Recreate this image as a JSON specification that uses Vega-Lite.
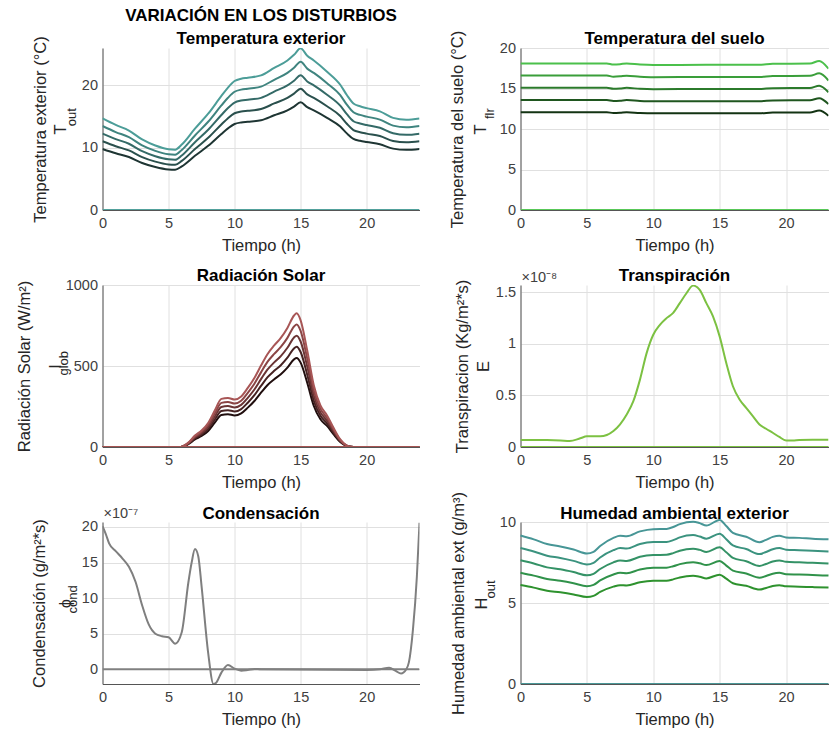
{
"$schema": "https://vega.github.io/schema/vega-lite/v6.json",
"padding": {"left": 15.5, "top": 7, "right": 0, "bottom": 0},
"config": {
  "font": "Liberation Sans",
  "view": {"stroke": null},
  "axis": {"labelFont": "Liberation Sans", "labelFontSize": 14.5, "labelColor": "#404040", "titleFont": "Liberation Sans", "titleFontSize": 16.5, "titleFontWeight": "normal", "titleColor": "#262626", "grid": true, "gridColor": "#e0e0e0", "domainColor": "#555555", "ticks": false, "labelPadding": 5, "labelFlush": false},
  "axisX": {"labelPadding": 6, "titlePadding": 8},
  "title": {"font": "Liberation Sans", "fontSize": 17, "fontWeight": "bold", "color": "#000000", "offset": 1.5, "lineHeight": 23}
},
"datasets": {
  "zero": [{"t": 0, "v": 0}, {"t": 24, "v": 0}],
  "tout": [
    {"t":0,"a":9.8,"b":11.03,"c":12.25,"d":13.48,"e":14.7},
    {"t":1,"a":9.1,"b":10.24,"c":11.38,"d":12.51,"e":13.65},
    {"t":2,"a":8.5,"b":9.56,"c":10.63,"d":11.69,"e":12.75},
    {"t":3,"a":7.55,"b":8.49,"c":9.44,"d":10.38,"e":11.33},
    {"t":4,"a":6.9,"b":7.76,"c":8.63,"d":9.49,"e":10.35},
    {"t":5,"a":6.5,"b":7.31,"c":8.13,"d":8.94,"e":9.75},
    {"t":5.5,"a":6.45,"b":7.26,"c":8.06,"d":8.87,"e":9.68},
    {"t":6,"a":7.0,"b":7.88,"c":8.75,"d":9.63,"e":10.5},
    {"t":7,"a":8.7,"b":9.79,"c":10.88,"d":11.96,"e":13.05},
    {"t":8,"a":10.3,"b":11.59,"c":12.88,"d":14.16,"e":15.45},
    {"t":9,"a":12.2,"b":13.73,"c":15.25,"d":16.78,"e":18.3},
    {"t":9.5,"a":13.1,"b":14.74,"c":16.38,"d":18.01,"e":19.65},
    {"t":10,"a":13.8,"b":15.53,"c":17.25,"d":18.98,"e":20.7},
    {"t":10.5,"a":14.05,"b":15.81,"c":17.56,"d":19.32,"e":21.08},
    {"t":11,"a":14.15,"b":15.92,"c":17.69,"d":19.46,"e":21.23},
    {"t":12,"a":14.4,"b":16.2,"c":18.0,"d":19.8,"e":21.6},
    {"t":13,"a":15.2,"b":17.1,"c":19.0,"d":20.9,"e":22.8},
    {"t":14,"a":16.0,"b":18.0,"c":20.0,"d":22.0,"e":24.0},
    {"t":14.5,"a":16.6,"b":18.68,"c":20.75,"d":22.83,"e":24.9},
    {"t":15,"a":17.3,"b":19.46,"c":21.63,"d":23.79,"e":25.95},
    {"t":15.5,"a":16.5,"b":18.56,"c":20.63,"d":22.69,"e":24.75},
    {"t":16,"a":16.0,"b":18.0,"c":20.0,"d":22.0,"e":24.0},
    {"t":17,"a":14.8,"b":16.65,"c":18.5,"d":20.35,"e":22.2},
    {"t":18,"a":13.4,"b":15.08,"c":16.75,"d":18.43,"e":20.1},
    {"t":18.5,"a":12.3,"b":13.84,"c":15.38,"d":16.91,"e":18.45},
    {"t":19,"a":11.4,"b":12.83,"c":14.25,"d":15.68,"e":17.1},
    {"t":19.5,"a":11.1,"b":12.49,"c":13.88,"d":15.26,"e":16.65},
    {"t":20,"a":10.9,"b":12.26,"c":13.63,"d":14.99,"e":16.35},
    {"t":21,"a":10.55,"b":11.87,"c":13.19,"d":14.51,"e":15.83},
    {"t":22,"a":9.85,"b":11.08,"c":12.31,"d":13.54,"e":14.78},
    {"t":23,"a":9.65,"b":10.86,"c":12.06,"d":13.27,"e":14.48},
    {"t":24,"a":9.8,"b":11.03,"c":12.25,"d":13.48,"e":14.7}
  ],
  "tflr": [
    {"t":0,"a":12.07,"b":13.58,"c":15.09,"d":16.6,"e":18.1},
    {"t":6.5,"a":12.07,"b":13.58,"c":15.09,"d":16.6,"e":18.1},
    {"t":7,"a":11.97,"b":13.47,"c":14.96,"d":16.46,"e":17.96},
    {"t":7.5,"a":12.0,"b":13.5,"c":15.0,"d":16.5,"e":18.0},
    {"t":8,"a":12.06,"b":13.57,"c":15.08,"d":16.58,"e":18.09},
    {"t":9,"a":11.97,"b":13.47,"c":14.96,"d":16.46,"e":17.96},
    {"t":10,"a":11.93,"b":13.42,"c":14.91,"d":16.4,"e":17.9},
    {"t":14,"a":11.95,"b":13.44,"c":14.94,"d":16.43,"e":17.93},
    {"t":18,"a":11.95,"b":13.44,"c":14.94,"d":16.43,"e":17.93},
    {"t":19,"a":12.03,"b":13.53,"c":15.04,"d":16.54,"e":18.05},
    {"t":21.8,"a":12.05,"b":13.56,"c":15.06,"d":16.57,"e":18.08},
    {"t":22.5,"a":12.27,"b":13.8,"c":15.34,"d":16.87,"e":18.41},
    {"t":23.2,"a":11.63,"b":13.08,"c":14.54,"d":15.99,"e":17.45}
  ],
  "iglob": [
    {"t":0,"a":0,"b":0,"c":0,"d":0,"e":0},
    {"t":5.9,"a":0,"b":0,"c":0,"d":0,"e":0},
    {"t":6.5,"a":18,"b":20.25,"c":22.5,"d":24.75,"e":27},
    {"t":7,"a":47,"b":52.88,"c":58.75,"d":64.63,"e":70.5},
    {"t":7.5,"a":68,"b":76.5,"c":85,"d":93.5,"e":102},
    {"t":8,"a":99,"b":111.38,"c":123.75,"d":136.13,"e":148.5},
    {"t":8.5,"a":150,"b":168.75,"c":187.5,"d":206.25,"e":225},
    {"t":9,"a":198,"b":222.75,"c":247.5,"d":272.25,"e":297},
    {"t":9.5,"a":202,"b":227.25,"c":252.5,"d":277.75,"e":303},
    {"t":10,"a":195,"b":219.38,"c":243.75,"d":268.13,"e":292.5},
    {"t":10.5,"a":208,"b":234,"c":260,"d":286,"e":312},
    {"t":11,"a":243,"b":273.38,"c":303.75,"d":334.13,"e":364.5},
    {"t":11.5,"a":284,"b":319.5,"c":355,"d":390.5,"e":426},
    {"t":12,"a":335,"b":376.88,"c":418.75,"d":460.63,"e":502.5},
    {"t":12.5,"a":383,"b":430.88,"c":478.75,"d":526.63,"e":574.5},
    {"t":13,"a":418,"b":470.25,"c":522.5,"d":574.75,"e":627},
    {"t":13.5,"a":449,"b":505.13,"c":561.25,"d":617.38,"e":673.5},
    {"t":14,"a":490,"b":551.25,"c":612.5,"d":673.75,"e":735},
    {"t":14.5,"a":541,"b":608.63,"c":676.25,"d":743.88,"e":811.5},
    {"t":14.7,"a":550,"b":618.75,"c":687.5,"d":756.25,"e":825},
    {"t":15,"a":521,"b":586.13,"c":651.25,"d":716.38,"e":781.5},
    {"t":15.5,"a":397,"b":446.63,"c":496.25,"d":545.88,"e":595.5},
    {"t":16,"a":253,"b":284.63,"c":316.25,"d":347.88,"e":379.5},
    {"t":16.5,"a":171,"b":192.38,"c":213.75,"d":235.13,"e":256.5},
    {"t":17,"a":130,"b":146.25,"c":162.5,"d":178.75,"e":195},
    {"t":17.5,"a":78,"b":87.75,"c":97.5,"d":107.25,"e":117},
    {"t":18,"a":31,"b":34.88,"c":38.75,"d":42.63,"e":46.5},
    {"t":18.5,"a":6,"b":6.75,"c":7.5,"d":8.25,"e":9},
    {"t":19,"a":0,"b":0,"c":0,"d":0,"e":0},
    {"t":24,"a":0,"b":0,"c":0,"d":0,"e":0}
  ],
  "transp": [
    {"t":0,"v":0.068},{"t":2,"v":0.068},{"t":3,"v":0.064},{"t":3.7,"v":0.058},{"t":4.5,"v":0.084},
    {"t":5,"v":0.103},{"t":6,"v":0.103},{"t":6.5,"v":0.116},{"t":7,"v":0.155},{"t":7.5,"v":0.22},
    {"t":8,"v":0.315},{"t":8.5,"v":0.444},{"t":9,"v":0.653},{"t":9.5,"v":0.91},{"t":10,"v":1.088},
    {"t":10.5,"v":1.184},{"t":11,"v":1.249},{"t":11.5,"v":1.3},{"t":12,"v":1.394},{"t":12.5,"v":1.49},
    {"t":13,"v":1.564},{"t":13.5,"v":1.522},{"t":14,"v":1.394},{"t":14.5,"v":1.265},{"t":15,"v":1.072},
    {"t":15.5,"v":0.814},{"t":16,"v":0.589},{"t":16.5,"v":0.46},{"t":17,"v":0.38},{"t":17.5,"v":0.3},
    {"t":18,"v":0.219},{"t":18.5,"v":0.177},{"t":19,"v":0.138},{"t":19.5,"v":0.097},{"t":20,"v":0.064},
    {"t":20.5,"v":0.064},{"t":21,"v":0.068},{"t":22,"v":0.07},{"t":23.2,"v":0.07}
  ],
  "cond": [
    {"t":0,"v":20.1},{"t":0.25,"v":19.0},{"t":0.5,"v":17.7},{"t":1,"v":16.6},{"t":1.5,"v":15.6},
    {"t":2,"v":14.4},{"t":2.5,"v":12.3},{"t":3,"v":9.0},{"t":3.5,"v":6.3},{"t":4,"v":5.0},
    {"t":4.5,"v":4.65},{"t":5,"v":4.5},{"t":5.5,"v":3.6},{"t":6,"v":5.2},{"t":6.5,"v":12.2},
    {"t":6.75,"v":15.0},{"t":7,"v":16.9},{"t":7.25,"v":15.9},{"t":7.5,"v":11.7},{"t":8,"v":2.3},
    {"t":8.4,"v":-2.07},{"t":8.6,"v":-1.9},{"t":9,"v":-0.47},{"t":9.5,"v":0.6},{"t":10,"v":0.09},
    {"t":10.5,"v":-0.19},{"t":11,"v":-0.09},{"t":11.5,"v":0.05},{"t":12,"v":0},{"t":20,"v":-0.09},
    {"t":21,"v":0.0},{"t":21.7,"v":0.23},{"t":22.2,"v":-0.23},{"t":22.6,"v":-0.6},{"t":23,"v":0.0},
    {"t":23.2,"v":1.0},{"t":23.5,"v":5.5},{"t":23.8,"v":13.0},{"t":24,"v":20.6}
  ],
  "hout": [
    {"t":0,"a":6.11,"b":6.87,"c":7.64,"d":8.4,"e":9.17},
    {"t":1,"a":5.95,"b":6.69,"c":7.44,"d":8.18,"e":8.93},
    {"t":2,"a":5.76,"b":6.48,"c":7.2,"d":7.92,"e":8.64},
    {"t":3,"a":5.66,"b":6.37,"c":7.08,"d":7.78,"e":8.49},
    {"t":4,"a":5.53,"b":6.22,"c":6.91,"d":7.6,"e":8.3},
    {"t":5,"a":5.37,"b":6.04,"c":6.71,"d":7.38,"e":8.06},
    {"t":5.5,"a":5.44,"b":6.12,"c":6.8,"d":7.48,"e":8.16},
    {"t":6,"a":5.68,"b":6.39,"c":7.1,"d":7.81,"e":8.52},
    {"t":7,"a":6.01,"b":6.76,"c":7.51,"d":8.26,"e":9.02},
    {"t":7.5,"a":6.1,"b":6.86,"c":7.63,"d":8.39,"e":9.15},
    {"t":8,"a":6.08,"b":6.84,"c":7.6,"d":8.36,"e":9.12},
    {"t":9,"a":6.28,"b":7.07,"c":7.85,"d":8.64,"e":9.42},
    {"t":10,"a":6.37,"b":7.17,"c":7.96,"d":8.76,"e":9.56},
    {"t":11,"a":6.38,"b":7.18,"c":7.98,"d":8.77,"e":9.57},
    {"t":11.5,"a":6.46,"b":7.27,"c":8.08,"d":8.88,"e":9.69},
    {"t":12,"a":6.58,"b":7.4,"c":8.23,"d":9.05,"e":9.87},
    {"t":13,"a":6.68,"b":7.52,"c":8.35,"d":9.19,"e":10.02},
    {"t":13.5,"a":6.62,"b":7.45,"c":8.28,"d":9.1,"e":9.93},
    {"t":14,"a":6.52,"b":7.34,"c":8.15,"d":8.97,"e":9.78},
    {"t":15,"a":6.75,"b":7.59,"c":8.44,"d":9.28,"e":10.13},
    {"t":15.5,"a":6.5,"b":7.31,"c":8.13,"d":8.94,"e":9.75},
    {"t":16,"a":6.22,"b":7.0,"c":7.78,"d":8.55,"e":9.33},
    {"t":17,"a":6.06,"b":6.82,"c":7.58,"d":8.33,"e":9.09},
    {"t":18,"a":5.83,"b":6.56,"c":7.29,"d":8.02,"e":8.75},
    {"t":18.5,"a":5.93,"b":6.67,"c":7.41,"d":8.15,"e":8.9},
    {"t":19,"a":6.05,"b":6.81,"c":7.56,"d":8.32,"e":9.08},
    {"t":19.5,"a":6.1,"b":6.86,"c":7.63,"d":8.39,"e":9.15},
    {"t":20,"a":6.03,"b":6.78,"c":7.54,"d":8.29,"e":9.05},
    {"t":21,"a":6.01,"b":6.76,"c":7.51,"d":8.26,"e":9.02},
    {"t":22,"a":5.98,"b":6.73,"c":7.48,"d":8.22,"e":8.97},
    {"t":23.2,"a":5.95,"b":6.69,"c":7.44,"d":8.18,"e":8.93}
  ]
},
"columns": 2,
"spacing": {"row": 75, "column": 101},
"bounds": "flush",
"align": "each",
"resolve": {"scale": {"color": "independent"}},
"concat": [
  {
    "width": 317, "height": 162,
    "title": {"text": ["VARIACIÓN EN LOS DISTURBIOS", "Temperatura exterior"], "offset": -12.2},
    "encoding": {"x": {"field": "t", "type": "quantitative", "scale": {"domain": [0, 24], "nice": false, "zero": false}, "axis": {"title": "Tiempo (h)", "values": [0, 5, 10, 15, 20]}}},
    "layer": [
      {"data": {"name": "tout"}, "transform": [{"fold": ["a", "b", "c", "d", "e"], "as": ["serie", "v"]}],
       "mark": {"type": "line", "interpolate": "monotone", "strokeWidth": 2, "clip": true},
       "encoding": {
         "y": {"field": "v", "type": "quantitative", "scale": {"domain": [0, 26], "nice": false}, "axis": {"values": [0, 10, 20], "title": ["Temperatura exterior (°C)", "T"], "titleX": -62, "titleY": 81, "titleAngle": -90, "titleAlign": "center", "titleBaseline": "middle", "titleLineHeight": 20}},
         "color": {"field": "serie", "type": "nominal", "scale": {"domain": ["a", "b", "c", "d", "e"], "range": ["#1e3533", "#2a504d", "#346a67", "#3f847f", "#4c9d98"]}, "legend": null}}},
      {"data": {"name": "zero"}, "mark": {"type": "line", "strokeWidth": 2, "color": "#52a19c", "clip": true},
       "encoding": {"y": {"field": "v", "type": "quantitative", "axis": {"orient": "left", "title": "out", "titleX": -31.5, "titleY": 68.7, "titleFontSize": 13, "titleAngle": -90, "titleAlign": "center", "titleBaseline": "middle", "labels": false, "ticks": false, "domain": false, "grid": false}}}}
    ],
    "resolve": {"axis": {"y": "independent"}}
  },
  {
    "width": 308, "height": 162,
    "title": {"text": "Temperatura del suelo", "offset": -17.2},
    "encoding": {"x": {"field": "t", "type": "quantitative", "scale": {"domain": [0, 23.2], "nice": false, "zero": false}, "axis": {"title": "Tiempo (h)", "values": [0, 5, 10, 15, 20]}}},
    "layer": [
      {"data": {"name": "tflr"}, "transform": [{"fold": ["a", "b", "c", "d", "e"], "as": ["serie", "v"]}],
       "mark": {"type": "line", "interpolate": "monotone", "strokeWidth": 2, "clip": true},
       "encoding": {
         "y": {"field": "v", "type": "quantitative", "scale": {"domain": [0, 20], "nice": false}, "axis": {"values": [0, 5, 10, 15, 20], "title": ["Temperatura del suelo (°C)", "T"], "titleX": -62.7, "titleY": 81, "titleAngle": -90, "titleAlign": "center", "titleBaseline": "middle", "titleLineHeight": 23}},
         "color": {"field": "serie", "type": "nominal", "scale": {"domain": ["a", "b", "c", "d", "e"], "range": ["#133313", "#1f561f", "#2b7a2b", "#3a9e3a", "#4bc04b"]}, "legend": null}}},
      {"data": {"name": "zero"}, "mark": {"type": "line", "strokeWidth": 2, "color": "#58c858", "clip": true},
       "encoding": {"y": {"field": "v", "type": "quantitative", "axis": {"orient": "left", "title": "flr", "titleX": -30.7, "titleY": 65.2, "titleFontSize": 13, "titleAngle": -90, "titleAlign": "center", "titleBaseline": "middle", "labels": false, "ticks": false, "domain": false, "grid": false}}}}
    ],
    "resolve": {"axis": {"y": "independent"}}
  },
  {
    "width": 317, "height": 162,
    "title": {"text": "Radiación Solar", "offset": -7.8},
    "encoding": {"x": {"field": "t", "type": "quantitative", "scale": {"domain": [0, 24], "nice": false, "zero": false}, "axis": {"title": "Tiempo (h)", "values": [0, 5, 10, 15, 20]}}},
    "layer": [
      {"data": {"name": "iglob"}, "transform": [{"fold": ["a", "b", "c", "d", "e"], "as": ["serie", "v"]}],
       "mark": {"type": "line", "interpolate": "monotone", "strokeWidth": 2, "clip": true},
       "encoding": {
         "y": {"field": "v", "type": "quantitative", "scale": {"domain": [0, 1000], "nice": false}, "axis": {"values": [0, 500, 1000], "format": "d", "title": ["Radiación Solar (W/m²)", "I\u00a0\u00a0\u00a0\u00a0\u00a0\u00a0"], "titleX": -78, "titleY": 81, "titleAngle": -90, "titleAlign": "center", "titleBaseline": "middle", "titleLineHeight": 31}},
         "color": {"field": "serie", "type": "nominal", "scale": {"domain": ["a", "b", "c", "d", "e"], "range": ["#200e0e", "#462222", "#6a3434", "#8b4545", "#a85656"]}, "legend": null}}},
      {"data": {"name": "zero"}, "mark": {"type": "line", "strokeWidth": 2, "color": "#a65452", "clip": true},
       "encoding": {"y": {"field": "v", "type": "quantitative", "axis": {"orient": "left", "title": "glob", "titleX": -39, "titleY": 77.8, "titleFontSize": 13, "titleAngle": -90, "titleAlign": "center", "titleBaseline": "middle", "labels": false, "ticks": false, "domain": false, "grid": false}}}}
    ],
    "resolve": {"axis": {"y": "independent"}}
  },
  {
    "width": 308, "height": 162,
    "title": {"text": "Transpiración", "offset": -14.5},
    "encoding": {"x": {"field": "t", "type": "quantitative", "scale": {"domain": [0, 23.2], "nice": false, "zero": false}, "axis": {"title": "Tiempo (h)", "values": [0, 5, 10, 15, 20]}}},
    "layer": [
      {"data": {"name": "transp"},
       "mark": {"type": "line", "interpolate": "monotone", "strokeWidth": 2, "color": "#7cc142", "clip": true},
       "encoding": {
         "y": {"field": "v", "type": "quantitative", "scale": {"domain": [0, 1.57], "nice": false}, "axis": {"values": [0, 0.5, 1, 1.5], "format": "~g", "title": ["Transpiracion (Kg/m²*s)", "E"], "titleX": -57.7, "titleY": 81, "titleAngle": -90, "titleAlign": "center", "titleBaseline": "middle", "titleLineHeight": 21}}}},
      {"data": {"name": "zero"}, "mark": {"type": "line", "strokeWidth": 2, "color": "#7cc142", "clip": true},
       "encoding": {"y": {"field": "v", "type": "quantitative", "axis": {"orient": "left", "title": null, "labels": false, "ticks": false, "domain": false, "grid": false}}}},
      {"data": {"name": "zero"}, "transform": [{"filter": "datum.t == 0"}],
       "mark": {"type": "text", "align": "left", "baseline": "alphabetic", "dx": 1, "dy": -3, "fontSize": 14.5, "color": "#404040"},
       "encoding": {"y": {"datum": 1.57, "type": "quantitative", "axis": {"orient": "left", "title": null, "labels": false, "ticks": false, "domain": false, "grid": false}}, "text": {"value": "×10⁻⁸"}}}
    ],
    "resolve": {"axis": {"y": "independent"}}
  },
  {
    "width": 317, "height": 162,
    "title": {"text": "Condensación", "offset": -17},
    "encoding": {"x": {"field": "t", "type": "quantitative", "scale": {"domain": [0, 24], "nice": false, "zero": false}, "axis": {"title": "Tiempo (h)", "values": [0, 5, 10, 15, 20]}}},
    "layer": [
      {"data": {"name": "cond"},
       "mark": {"type": "line", "interpolate": "monotone", "strokeWidth": 2, "color": "#7f7f7f", "clip": true},
       "encoding": {
         "y": {"field": "v", "type": "quantitative", "scale": {"domain": [-2.07, 20.7], "nice": false, "zero": false}, "axis": {"values": [0, 5, 10, 15, 20], "title": ["Condensación (g/m²*s)", "ϕ\u00a0\u00a0\u00a0\u00a0\u00a0\u00a0"], "titleX": -63, "titleY": 81, "titleAngle": -90, "titleAlign": "center", "titleBaseline": "middle", "titleLineHeight": 26}}}},
      {"data": {"name": "zero"}, "mark": {"type": "line", "strokeWidth": 2, "color": "#808080", "clip": true},
       "encoding": {"y": {"field": "v", "type": "quantitative", "axis": {"orient": "left", "title": "cond", "titleX": -30.5, "titleY": 76.8, "titleFontSize": 13, "titleAngle": -90, "titleAlign": "center", "titleBaseline": "middle", "labels": false, "ticks": false, "domain": false, "grid": false}}}},
      {"data": {"name": "zero"}, "transform": [{"filter": "datum.t == 0"}],
       "mark": {"type": "text", "align": "left", "baseline": "alphabetic", "dx": 1, "dy": -4.5, "fontSize": 14.5, "color": "#404040"},
       "encoding": {"y": {"datum": 20.7, "type": "quantitative", "axis": {"orient": "left", "title": null, "labels": false, "ticks": false, "domain": false, "grid": false}}, "text": {"value": "×10⁻⁷"}}}
    ],
    "resolve": {"axis": {"y": "independent"}}
  },
  {
    "width": 308, "height": 162,
    "title": {"text": "Humedad ambiental exterior", "offset": -31.5},
    "encoding": {"x": {"field": "t", "type": "quantitative", "scale": {"domain": [0, 23.2], "nice": false, "zero": false}, "axis": {"title": "Tiempo (h)", "values": [0, 5, 10, 15, 20]}}},
    "layer": [
      {"data": {"name": "hout"}, "transform": [{"fold": ["a", "b", "c", "d", "e"], "as": ["serie", "v"]}],
       "mark": {"type": "line", "interpolate": "monotone", "strokeWidth": 2},
       "encoding": {
         "y": {"field": "v", "type": "quantitative", "scale": {"domain": [0, 10], "nice": false}, "axis": {"values": [0, 5, 10], "title": ["Humedad ambiental ext (g/m³)", "H"], "titleX": -61.7, "titleY": 81, "titleAngle": -90, "titleAlign": "center", "titleBaseline": "middle", "titleLineHeight": 22.7}},
         "color": {"field": "serie", "type": "nominal", "scale": {"domain": ["a", "b", "c", "d", "e"], "range": ["#2e922e", "#30924a", "#349266", "#3b937f", "#479696"]}, "legend": null}}},
      {"data": {"name": "zero"}, "mark": {"type": "line", "strokeWidth": 2, "color": "#4a9797", "clip": true},
       "encoding": {"y": {"field": "v", "type": "quantitative", "axis": {"orient": "left", "title": "out", "titleX": -29.7, "titleY": 67, "titleFontSize": 13, "titleAngle": -90, "titleAlign": "center", "titleBaseline": "middle", "labels": false, "ticks": false, "domain": false, "grid": false}}}}
    ],
    "resolve": {"axis": {"y": "independent"}}
  }
]
}
